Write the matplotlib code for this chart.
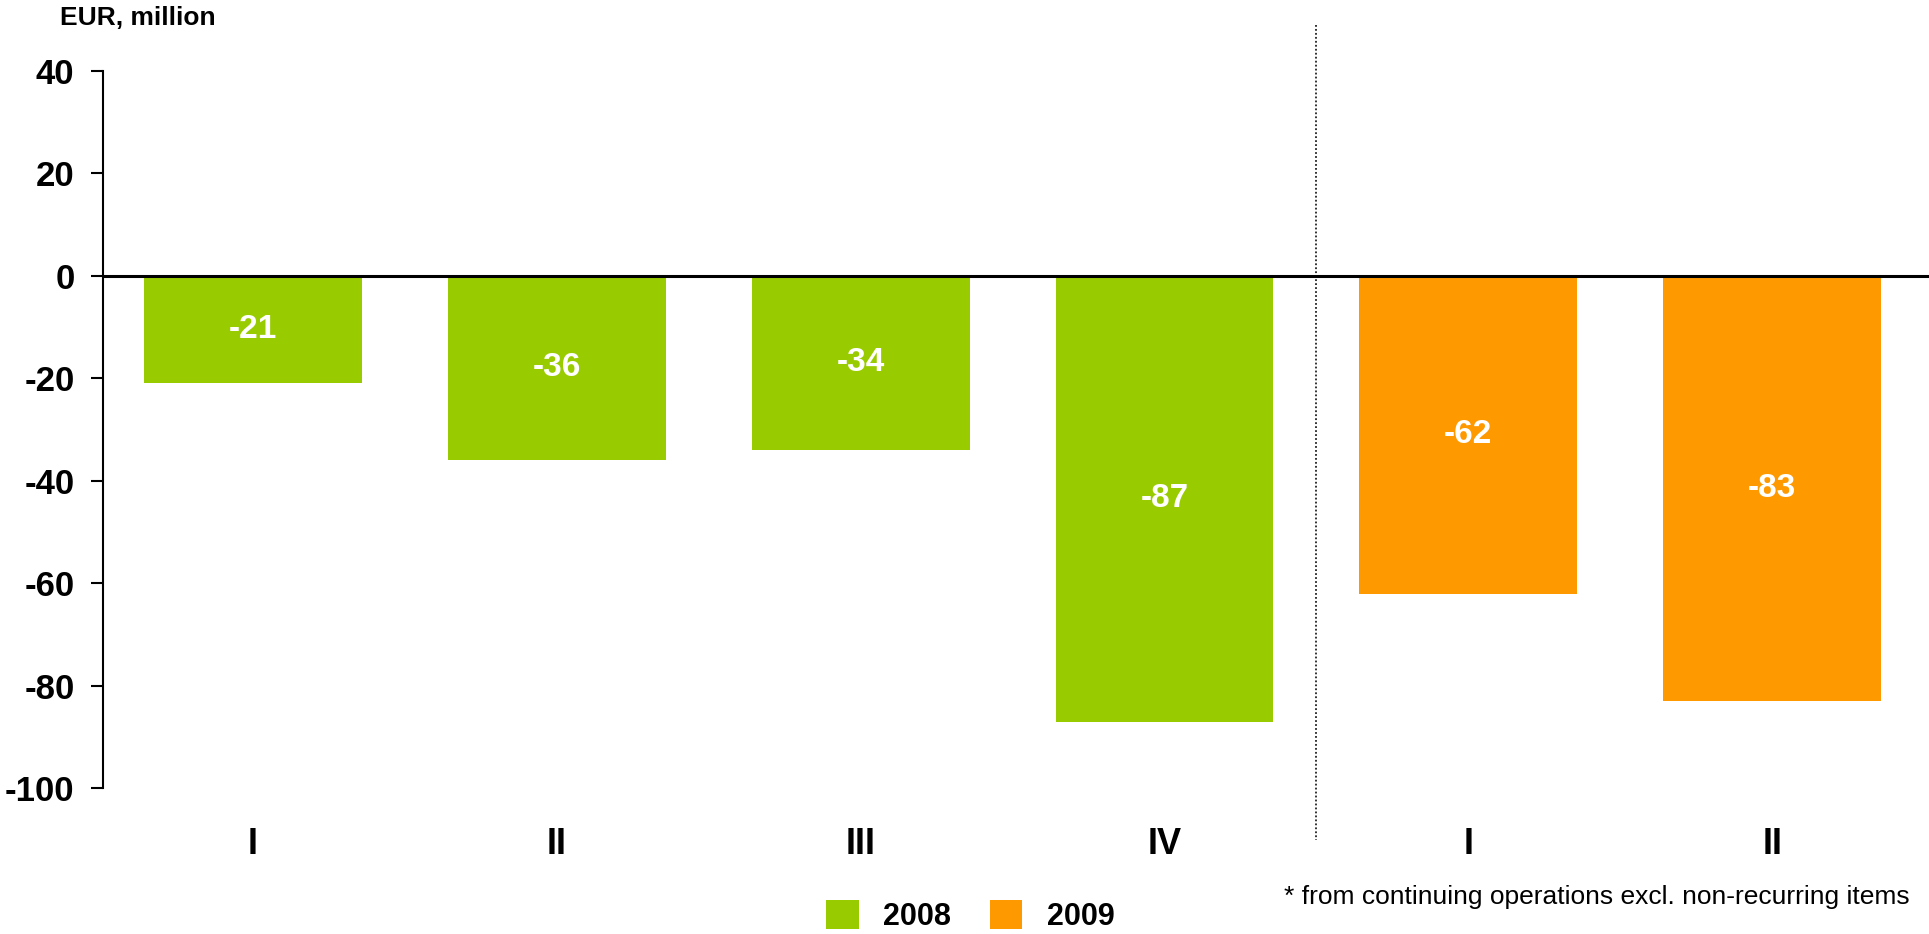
import matplotlib.pyplot as plt

plt.rcParams['font.family'] = ['Liberation Sans', 'DejaVu Sans']

# Quarterly result, EUR million
quarters_2008 = ['I', 'II', 'III', 'IV']
values_2008 = [-21, -36, -34, -87]
quarters_2009 = ['I', 'II']
values_2009 = [-62, -83]
yticks = [40, 20, 0, -20, -40, -60, -80, -100]

green = '#99CC00'
orange = '#FF9900'

fig = plt.figure(figsize=(19.29, 9.34), dpi=100)
ax = fig.add_axes([0.0534, 0.1558, 0.9466, 0.7687])

x08 = list(range(len(values_2008)))
x09 = [len(values_2008) + i for i in range(len(values_2009))]

bars08 = ax.bar(x08, values_2008, width=0.717, color=green, label='2008')
bars09 = ax.bar(x09, values_2009, width=0.717, color=orange, label='2009')
for bars in (bars08, bars09):
    ax.bar_label(bars, label_type='center', color='white', fontsize=24,
                 fontweight='bold', fmt='%d')

ax.set_xlim(-0.494, 5.516)
ax.set_ylim(-100, 40)

# zero line and divider between the two years
ax.axhline(0, color='black', lw=2.2, zorder=3)
ax.plot([3.5, 3.5], [48.9, -110], color='#222222', lw=1.3, ls=(0, (1, 1.2)),
        clip_on=False)

ax.set_yticks(yticks)
ax.set_yticklabels([str(v) for v in yticks], fontsize=25, fontweight='bold')
ax.tick_params(axis='y', length=8.6, width=1.5, pad=12)
ax.set_xticks(x08 + x09)
ax.set_xticklabels(quarters_2008 + quarters_2009, fontsize=26, fontweight='bold')
ax.tick_params(axis='x', length=0, pad=28)

for side in ('top', 'right', 'bottom'):
    ax.spines[side].set_visible(False)
ax.spines['left'].set_linewidth(1.5)

fig.text(0.031, 0.981, 'EUR, million', fontsize=19, fontweight='bold',
         va='center', ha='left')
fig.text(0.990, 0.040, '* from continuing operations excl. non-recurring items',
         fontsize=19, ha='right', va='center')

fig.legend(loc='center', bbox_to_anchor=(0.503, 0.019), ncol=2, frameon=False,
           prop={'size': 22, 'weight': 'bold'}, handlelength=1.07,
           handleheight=1.07, handletextpad=0.8, columnspacing=1.25,
           borderpad=0)

fig.savefig('out.png', dpi=100)
